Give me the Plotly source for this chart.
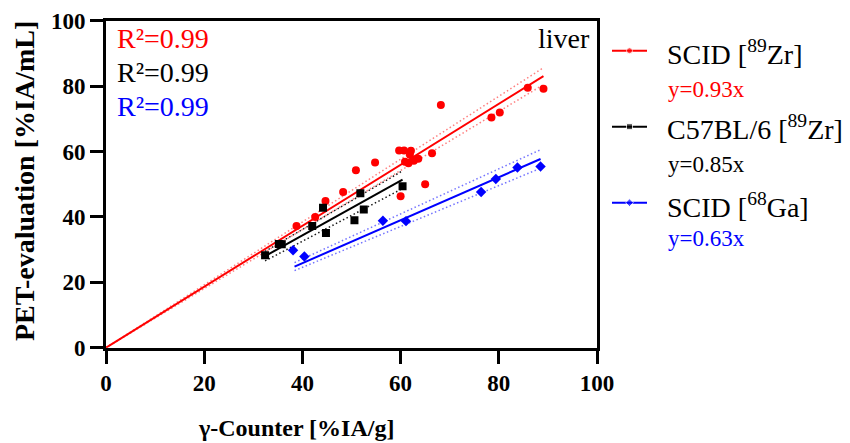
import numpy as np
import plotly.graph_objects as go

# ---- data ----
red_x = [38.8, 42.6, 44.7, 48.3, 50.9, 54.8, 59.7, 60.7, 62.1, 61.9, 60.9, 61.6, 62.7, 63.6, 66.4, 68.2, 65.0, 60.0, 78.5, 80.2, 85.9, 89.1]
red_y = [37.2, 40.0, 44.9, 47.6, 54.3, 56.6, 60.3, 60.3, 60.2, 59.0, 56.9, 56.4, 57.2, 57.8, 59.5, 74.2, 50.0, 46.3, 70.4, 71.9, 79.5, 79.2]

black_x = [32.4, 35.2, 35.8, 42.0, 44.2, 44.8, 50.6, 51.8, 52.5, 60.4]
black_y = [28.3, 31.7, 31.6, 37.2, 42.8, 35.1, 39.0, 47.2, 42.3, 49.4]

blue_x = [38.1, 40.4, 56.4, 61.1, 76.4, 79.4, 83.8, 88.5]
blue_y = [29.8, 27.9, 38.8, 38.7, 47.6, 51.6, 55.1, 55.4]

# fitted lines: slope, intercept, band half-slope
red_fit = (0.932, 0.0, 0.029)
black_fit = (0.835, 0.95, 0.045)
blue_fit = (0.657, -0.43, 0.032)

series_names = ["SCID [<sup>89</sup>Zr]", "C57BL/6 [<sup>89</sup>Zr]", "SCID [<sup>68</sup>Ga]"]
equations = ["y=0.93x", "y=0.85x", "y=0.63x"]
r2_labels = ["R²=0.99", "R²=0.99", "R²=0.99"]
colors = ["#ff0000", "#000000", "#0000ff"]
band_colors = ["rgba(255,0,0,0.5)", "rgba(0,0,0,0.9)", "rgba(0,0,255,0.55)"]
symbols = ["circle", "square", "diamond"]
x_ticks = [0, 20, 40, 60, 80, 100]
y_ticks = [0, 20, 40, 60, 80, 100]

W, H = 850, 443
FONT = "Liberation Serif"


def px(X):
    return X / W


def py(Y):
    return 1 - Y / H


fig = go.Figure()

groups = [
    (red_x, red_y, red_fit, 0.0, max(red_x)),
    (black_x, black_y, black_fit, min(black_x), max(black_x)),
    (blue_x, blue_y, blue_fit, 38.4, max(blue_x)),
]

for i, (xs, ys, fit, x0, x1) in enumerate(groups):
    s, b, k = fit
    xf = np.array([x0, x1])
    for sign in (1, -1):
        fig.add_trace(go.Scatter(x=xf, y=(s + sign * k) * xf + b, mode="lines",
                                 line=dict(color=band_colors[i], width=1.5, dash="1.5px,2.5px"),
                                 showlegend=False, hoverinfo="skip"))
    fig.add_trace(go.Scatter(x=xf, y=s * xf + b, mode="lines",
                             line=dict(color=colors[i], width=2),
                             showlegend=False, hoverinfo="skip"))

for i, (xs, ys, fit, x0, x1) in enumerate(groups):
    fig.add_trace(go.Scatter(x=xs, y=ys, mode="markers",
                             marker=dict(color=colors[i], symbol=symbols[i], size=8),
                             showlegend=False))

# manual legend samples on an auxiliary axis
row_Y = [50.7, 126.7, 202.7]
for i in range(3):
    yv = 1 - (row_Y[i] - 30) / 200
    fig.add_trace(go.Scatter(x=[0, 0.5, 1], y=[yv] * 3, mode="lines+markers",
                             xaxis="x2", yaxis="y2",
                             line=dict(color=colors[i], width=2),
                             marker=dict(color=colors[i], symbol=symbols[i], size=[0, 6, 0]),
                             showlegend=False, hoverinfo="skip"))

annotations = []
r2_Y = [38, 72, 106]
for i in range(3):
    annotations.append(dict(x=px(115), y=py(r2_Y[i]), xref="paper", yref="paper",
                            text=r2_labels[i], showarrow=False, xanchor="left", yanchor="middle",
                            font=dict(family=FONT, size=28, color=colors[i])))
annotations.append(dict(x=px(592), y=py(38), xref="paper", yref="paper", text="liver",
                        showarrow=False, xanchor="right", yanchor="middle",
                        font=dict(family=FONT, size=28, color="black")))
name_Y = [52, 128, 205]
eq_Y = [89, 164, 239]
for i in range(3):
    annotations.append(dict(x=px(665), y=py(name_Y[i]), xref="paper", yref="paper",
                            text=series_names[i], showarrow=False, xanchor="left", yanchor="middle",
                            font=dict(family=FONT, size=28, color="black")))
    annotations.append(dict(x=px(666), y=py(eq_Y[i]), xref="paper", yref="paper",
                            text=equations[i], showarrow=False, xanchor="left", yanchor="middle",
                            font=dict(family=FONT, size=23, color=colors[i])))
annotations.append(dict(x=px(296), y=py(428), xref="paper", yref="paper",
                        text="γ-Counter [%IA/g]", showarrow=False, xanchor="center", yanchor="middle",
                        font=dict(family=FONT, size=24, color="black", weight="bold")))
annotations.append(dict(x=px(25), y=py(181), xref="paper", yref="paper",
                        text="PET-evaluation [%IA/mL]", showarrow=False, textangle=-90,
                        xanchor="center", yanchor="middle",
                        font=dict(family=FONT, size=28, color="black", weight="bold")))

axis_common = dict(showline=True, linewidth=3, linecolor="black", mirror=True,
                   ticks="outside", ticklen=13, tickwidth=3, tickcolor="black",
                   showgrid=False, zeroline=False, automargin=False,
                   tickfont=dict(family=FONT, size=23, color="black", weight="bold"))

fig.update_layout(
    template="none",
    width=W, height=H, autosize=False,
    margin=dict(l=0, r=0, t=0, b=0, pad=0, autoexpand=False),
    plot_bgcolor="white", paper_bgcolor="white",
    showlegend=False,
    xaxis=dict(range=[0, 100], tickvals=x_ticks, domain=[px(106), px(597)], **axis_common),
    yaxis=dict(range=[0, 100], tickvals=y_ticks, domain=[py(347.7), py(20.7)], **axis_common),
    xaxis2=dict(domain=[px(612), px(647)], range=[0, 1], visible=False, anchor="y2", automargin=False),
    yaxis2=dict(domain=[py(230), py(30)], range=[0, 1], visible=False, anchor="x2", automargin=False),
    annotations=annotations,
)

fig.write_html("out.html", config={"displayModeBar": False},
               post_script="document.body.style.margin='0';document.body.style.overflow='hidden';")
